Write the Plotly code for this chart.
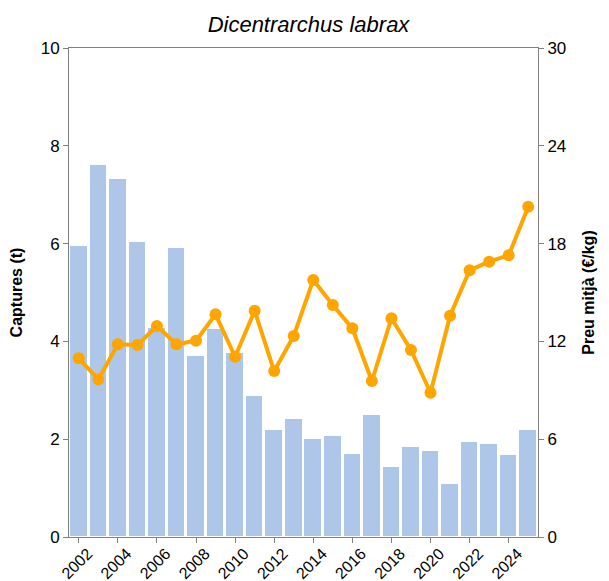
import plotly.graph_objects as go

years = list(range(2002, 2026))
captures_t = [5.95, 7.61, 7.33, 6.04, 4.27, 5.92, 3.71, 4.25, 3.77, 2.88, 2.19, 2.41,
              2.00, 2.06, 1.69, 2.50, 1.44, 1.84, 1.75, 1.08, 1.94, 1.90, 1.68, 2.19]
price_eur_kg = [10.96, 9.67, 11.82, 11.78, 12.94, 11.82, 12.04, 13.66, 11.06, 13.88, 10.18, 12.33,
                15.77, 14.23, 12.80, 9.57, 13.42, 11.47, 8.85, 13.58, 16.36, 16.89, 17.28, 20.26]
x_ticks = list(range(2002, 2026, 2))
left_ticks = [0, 2, 4, 6, 8, 10]
right_ticks = [0, 6, 12, 18, 24, 30]

FONT = "Arial, Liberation Sans, sans-serif"

fig = go.Figure()
fig.add_trace(go.Bar(
    x=years, y=captures_t, width=0.9,
    marker=dict(color="#aec7e8", line=dict(color="white", width=1)),
    yaxis="y", showlegend=False,
))
fig.add_trace(go.Scatter(
    x=years, y=price_eur_kg, mode="lines+markers",
    line=dict(color="#FFA500", width=4),
    marker=dict(color="#FFA500", size=12),
    yaxis="y2", showlegend=False,
))

axis_common = dict(showline=True, linecolor="#808080", linewidth=1, ticks="outside",
                   ticklen=5, tickcolor="#808080", showgrid=False, zeroline=False,
                   automargin=False)
tick_font = dict(family=FONT, size=17, color="black")

# page body has an 8px margin, so the figure is sized to fit the 609x581 window
fig.update_layout(
    width=601, height=573,
    margin=dict(l=61, r=71, t=40, b=44, autoexpand=False),
    paper_bgcolor="white", plot_bgcolor="white",
    title=dict(text="<i>Dicentrarchus labrax</i>", x=0.5, xanchor="center",
               xref="container", yref="container",
               y=0.972, yanchor="middle", automargin=False,
               font=dict(family=FONT, size=22, color="black")),
    xaxis=dict(range=[2001.5, 2025.5], tickvals=x_ticks, ticktext=[str(t) for t in x_ticks],
               tickangle=-45, mirror=True, ticklabelshift=9, ticklabelstandoff=-5,
               tickfont=dict(family=FONT, size=16, color="black"), **axis_common),
    yaxis=dict(range=[0, 10], tickvals=left_ticks, tickfont=tick_font,
               title=dict(text="<b>Captures (t)</b>", standoff=20,
                          font=dict(family=FONT, size=16, color="black")),
               **axis_common),
    yaxis2=dict(range=[0, 30], tickvals=right_ticks, overlaying="y", side="right",
                tickfont=tick_font,
                title=dict(text="<b>Preu mitjà (€/kg)</b>", standoff=17,
                           font=dict(family=FONT, size=16, color="black")),
                **axis_common),
    bargap=0,
)

fig.write_html("out.html")
